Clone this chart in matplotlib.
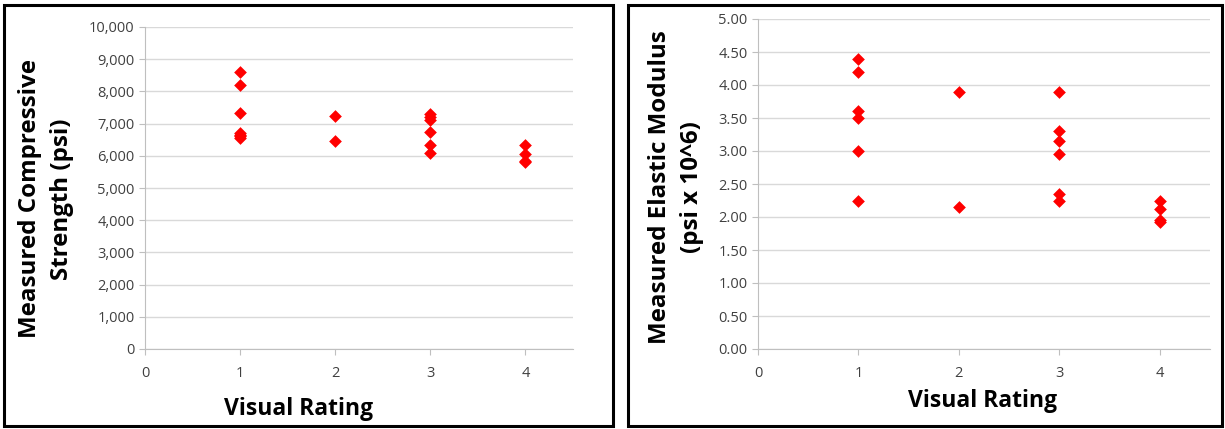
import matplotlib
matplotlib.use("Agg")
import matplotlib.pyplot as plt
from matplotlib.patches import Rectangle
from matplotlib.ticker import FuncFormatter

# Compressive strength (psi) by visual rating
cs_rating = [1, 1, 1, 1, 1, 1, 1, 2, 2, 3, 3, 3, 3, 3, 3, 4, 4, 4, 4]
cs_psi = [8600, 8200, 7330, 6700, 6650, 6600, 6550,
          7250, 6450,
          7300, 7200, 7100, 6750, 6350, 6100,
          6350, 6050, 5850, 5800]

# Elastic modulus (psi x 10^6) by visual rating
em_rating = [1, 1, 1, 1, 1, 1, 2, 2, 3, 3, 3, 3, 3, 3, 4, 4, 4, 4]
em_val = [4.40, 4.20, 3.60, 3.50, 3.00, 2.25,
          3.90, 2.15,
          3.90, 3.30, 3.15, 2.95, 2.35, 2.25,
          2.25, 2.12, 1.95, 1.92]

x_ticks = [0, 1, 2, 3, 4]

plt.rcParams['font.family'] = ['Open Sans', 'DejaVu Sans']

W, H = 1225, 429
fig = plt.figure(figsize=(W / 100, H / 100), dpi=100)

def px_axes(x0, y0, x1, y1):
    # pixel box (top-left origin) -> figure fraction
    return fig.add_axes([x0 / W, 1 - y1 / H, (x1 - x0) / W, (y1 - y0) / H])

def frame(x0, y0, x1, y1):
    fig.patches.append(Rectangle((x0 / W, 1 - y1 / H), (x1 - x0) / W, (y1 - y0) / H,
                                 transform=fig.transFigure, fill=False,
                                 edgecolor='black', linewidth=2.2))

def label(px, py, txt, rot=0, size=17.4):
    fig.text(px / W, 1 - py / H, txt, rotation=rot, ha='center', va='center',
             fontsize=size, fontweight='bold', color='black', linespacing=1.45)

def style(ax):
    ax.set_xlim(0, 4.5)
    ax.set_xticks(x_ticks)
    ax.grid(axis='y', color='#d9d9d9', linewidth=1)
    ax.set_axisbelow(True)
    for s in ['top', 'right']:
        ax.spines[s].set_visible(False)
    for s in ['left', 'bottom']:
        ax.spines[s].set_color('#bfbfbf')
    ax.tick_params(colors='#bfbfbf', labelcolor='#404040', labelsize=10.5, length=4)
    ax.tick_params(axis='x', pad=8)

frame(4, 5, 613, 426)
frame(628, 5, 1222, 426)

ax1 = px_axes(145, 27, 573, 349)
ax1.scatter(cs_rating, cs_psi, marker='D', s=42, color='#ff0000', linewidths=0)
ax1.set_ylim(0, 10000)
ax1.set_yticks(range(0, 10001, 1000))
ax1.yaxis.set_major_formatter(FuncFormatter(lambda v, p: f'{int(v):,}'))
style(ax1)
label(46, 199, 'Measured Compressive\nStrength (psi)', rot=90)
label(299, 409, 'Visual Rating', size=16.5)

ax2 = px_axes(758, 19, 1210, 349)
ax2.scatter(em_rating, em_val, marker='D', s=42, color='#ff0000', linewidths=0)
ax2.set_ylim(0, 5)
ax2.set_yticks([i * 0.5 for i in range(11)])
ax2.yaxis.set_major_formatter(FuncFormatter(lambda v, p: f'{v:.2f}'))
style(ax2)
label(676, 187, 'Measured Elastic Modulus\n(psi x 10^6)', rot=90)
label(983, 401, 'Visual Rating', size=16.5)

fig.savefig('out.png', dpi=100)
